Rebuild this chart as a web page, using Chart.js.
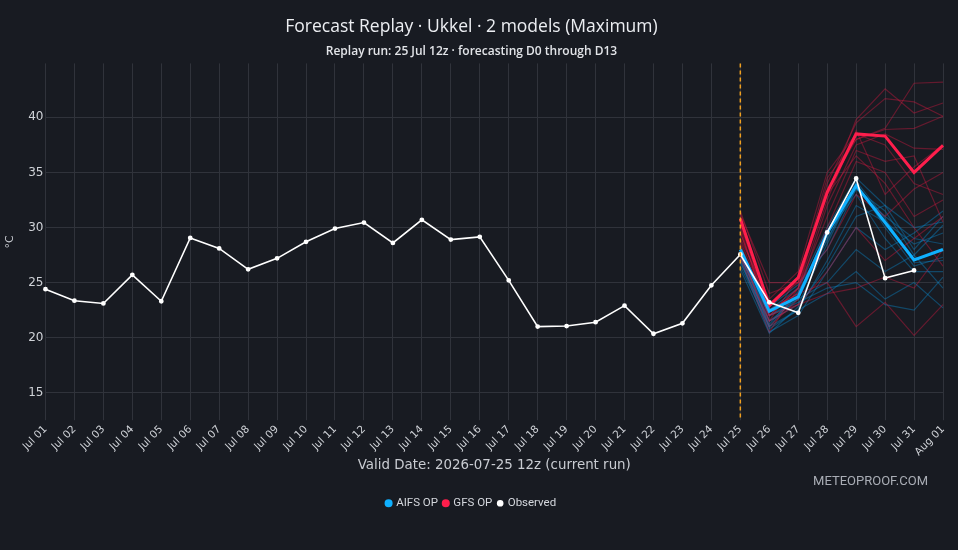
<!DOCTYPE html>
<html>
<head>
<meta charset="utf-8">
<script src="https://cdn.jsdelivr.net/npm/chart.js@4.4.1/dist/chart.umd.min.js"></script>
<style>
  html, body { margin: 0; padding: 0; background: #181b22; }
  #wrap { width: 958px; height: 550px; }
</style>
</head>
<body>
<div id="wrap"><canvas id="myChart"></canvas></div>
<script>
const days = ['Jul 01','Jul 02','Jul 03','Jul 04','Jul 05','Jul 06','Jul 07','Jul 08','Jul 09','Jul 10',
  'Jul 11','Jul 12','Jul 13','Jul 14','Jul 15','Jul 16','Jul 17','Jul 18','Jul 19','Jul 20',
  'Jul 21','Jul 22','Jul 23','Jul 24','Jul 25','Jul 26','Jul 27','Jul 28','Jul 29','Jul 30','Jul 31','Aug 01'];
const yTicks = [15, 20, 25, 30, 35, 40];
const runDay = 'Jul 25';

// observed maxima Jul 01 .. Jul 31
const observed = [24.4,23.35,23.1,25.7,23.3,29.05,28.1,26.2,27.2,28.7,
  29.9,30.45,28.6,30.7,28.9,29.15,25.2,21.0,21.05,21.4,
  22.9,20.35,21.3,24.75,27.55,23.2,22.25,29.55,34.45,25.4,26.1];

// operational runs, Jul 25 .. Aug 01
const aifsOp = [28.0,22.4,23.7,29.5,33.8,30.45,27.05,28.0];
const gfsOp  = [30.8,22.9,25.45,33.2,38.5,38.3,35.0,37.45];

// ensemble members, Jul 25 .. Aug 01
const gfsMembers = [
  [31.5,24.0,25.0,34.5,38.0,39.0,43.1,43.2],
  [31.0,23.0,25.0,33.0,39.8,42.6,40.4,41.3],
  [30.5,22.0,24.5,34.0,39.5,41.7,41.4,40.1],
  [30.0,21.5,25.5,33.5,38.0,38.9,39.0,40.1],
  [29.5,22.5,24.0,32.0,37.5,38.5,37.2,37.1],
  [29.0,23.5,26.0,35.0,38.5,37.5,34.0,33.0],
  [28.5,22.0,24.5,31.0,37.0,36.0,36.5,30.5],
  [28.0,21.0,23.5,30.0,36.0,35.0,31.0,32.5],
  [31.2,25.0,25.0,28.0,33.0,31.0,33.5,35.0],
  [27.5,21.5,23.0,26.0,30.0,27.0,29.0,31.0],
  [28.8,22.5,24.0,25.0,21.0,23.2,20.2,23.0],
  [30.2,23.0,25.5,33.0,36.5,34.0,30.0,26.5],
  [29.6,22.0,23.0,24.0,24.5,25.5,24.5,28.0],
  [27.3,20.5,24.5,32.5,38.8,33.0,35.5,37.5]
];
const aifsMembers = [
  [28.3,22.5,24.5,30.0,34.5,32.0,28.0,31.0],
  [28.0,22.0,23.5,29.0,33.5,31.5,27.5,30.2],
  [27.8,21.5,23.0,28.5,34.0,30.0,26.5,27.3],
  [27.5,21.0,24.0,29.5,33.0,29.0,26.0,26.0],
  [27.2,20.8,22.5,27.0,32.0,30.5,28.5,29.5],
  [27.0,20.5,22.0,26.0,30.0,28.0,29.5,31.5],
  [26.8,21.5,23.5,25.0,28.0,26.0,27.5,24.5],
  [26.5,21.0,22.5,24.0,26.0,23.5,25.0,22.7],
  [28.0,22.8,24.8,28.0,33.5,31.0,29.0,28.5],
  [27.4,22.0,23.2,24.5,25.0,23.0,22.5,25.5],
  [26.2,20.4,22.8,26.5,31.0,32.0,30.0,30.5],
  [27.6,21.2,24.2,28.8,34.2,30.8,26.8,27.0]
];

const lead = days.indexOf(runDay);
const pad = arr => Array(lead).fill(null).concat(arr);

const memberSet = (arr, color) => ({
  label: '', data: pad(arr), borderColor: color, borderWidth: 1.2,
  pointRadius: 0, fill: false, tension: 0, order: 3
});

const datasets = [
  { label: 'AIFS OP', data: pad(aifsOp), borderColor: '#0fb0ff', backgroundColor: '#0fb0ff',
    borderWidth: 3, pointRadius: 0, order: 1 },
  { label: 'GFS OP', data: pad(gfsOp), borderColor: '#ff1e4c', backgroundColor: '#ff1e4c',
    borderWidth: 3, pointRadius: 0, order: 2 },
  { label: 'Observed', data: observed, borderColor: '#ffffff', backgroundColor: '#ffffff',
    borderWidth: 1.6, pointRadius: 1.6, order: 0 }
].concat(
  gfsMembers.map(m => memberSet(m, 'rgba(215,25,65,0.4)')),
  aifsMembers.map(m => memberSet(m, 'rgba(10,140,210,0.4)'))
);

const extras = {
  id: 'extras',
  afterDatasetsDraw(chart) {
    const {ctx, chartArea, scales} = chart;
    const x = scales.x.getPixelForValue(lead);
    ctx.save();
    ctx.strokeStyle = '#f0a020';
    ctx.lineWidth = 1.5;
    ctx.setLineDash([4, 3]);
    ctx.beginPath();
    ctx.moveTo(x, chartArea.top);
    ctx.lineTo(x, chartArea.bottom);
    ctx.stroke();
    ctx.restore();
  },
  afterDraw(chart) {
    const ctx = chart.ctx;
    ctx.save();
    ctx.fillStyle = '#a9adb5';
    ctx.font = '13px Roboto';
    ctx.textAlign = 'right';
    ctx.fillText('METEOPROOF.COM', 928, 482);
    ctx.restore();
  }
};

new Chart('myChart', {
  type: 'line',
  data: { labels: days, datasets: datasets },
  plugins: [extras],
  options: {
    responsive: true,
    maintainAspectRatio: false,
    animation: false,
    layout: { padding: { left: 0, right: 15, top: 8, bottom: 31 } },
    plugins: {
      title: {
        display: true,
        text: 'Forecast Replay · Ukkel · 2 models (Maximum)',
        color: '#eceef2',
        font: { family: 'Open Sans', size: 17.5, weight: 'normal' },
        padding: { top: 9, bottom: 6 }
      },
      subtitle: {
        display: true,
        text: 'Replay run: 25 Jul 12z · forecasting D0 through D13',
        color: '#e2e4e8',
        font: { family: 'Open Sans', size: 12, weight: '600' },
        padding: { bottom: 5 }
      },
      legend: {
        position: 'bottom',
        labels: {
          color: '#d4d7dd',
          font: { family: 'Roboto', size: 11.5 },
          usePointStyle: true,
          pointStyle: 'circle',
          boxWidth: 3.6,
          boxHeight: 3.6,
          padding: 6,
          filter: item => item.text !== '',
          sort: (a, b) => a.datasetIndex - b.datasetIndex
        }
      },
      tooltip: { enabled: false }
    },
    scales: {
      x: {
        offset: false,
        grid: { color: '#30333b', drawTicks: true, tickLength: 0 },
        border: { display: false },
        ticks: {
          color: '#d0d3d8', maxRotation: 45, minRotation: 45, autoSkip: false, padding: 3,
          font: { family: 'DejaVu Sans', size: 10.5 }
        },
        title: {
          display: true, text: 'Valid Date: 2026-07-25 12z (current run)',
          color: '#c9ccd2', font: { family: 'DejaVu Sans', size: 13.4 }, padding: { top: -4, bottom: 18 }
        }
      },
      y: {
        min: 12.5,
        max: 44.9,
        afterBuildTicks: scale => { scale.ticks = yTicks.map(v => ({ value: v })); },
        grid: { color: '#30333b', tickLength: 0 },
        border: { display: false },
        ticks: { color: '#d0d3d8', font: { family: 'DejaVu Sans', size: 12 }, padding: 2 },
        title: {
          display: true, text: '°C', color: '#c9ccd2',
          font: { family: 'DejaVu Sans', size: 11 }, padding: { bottom: 9 }
        }
      }
    }
  }
});
</script>
</body>
</html>
